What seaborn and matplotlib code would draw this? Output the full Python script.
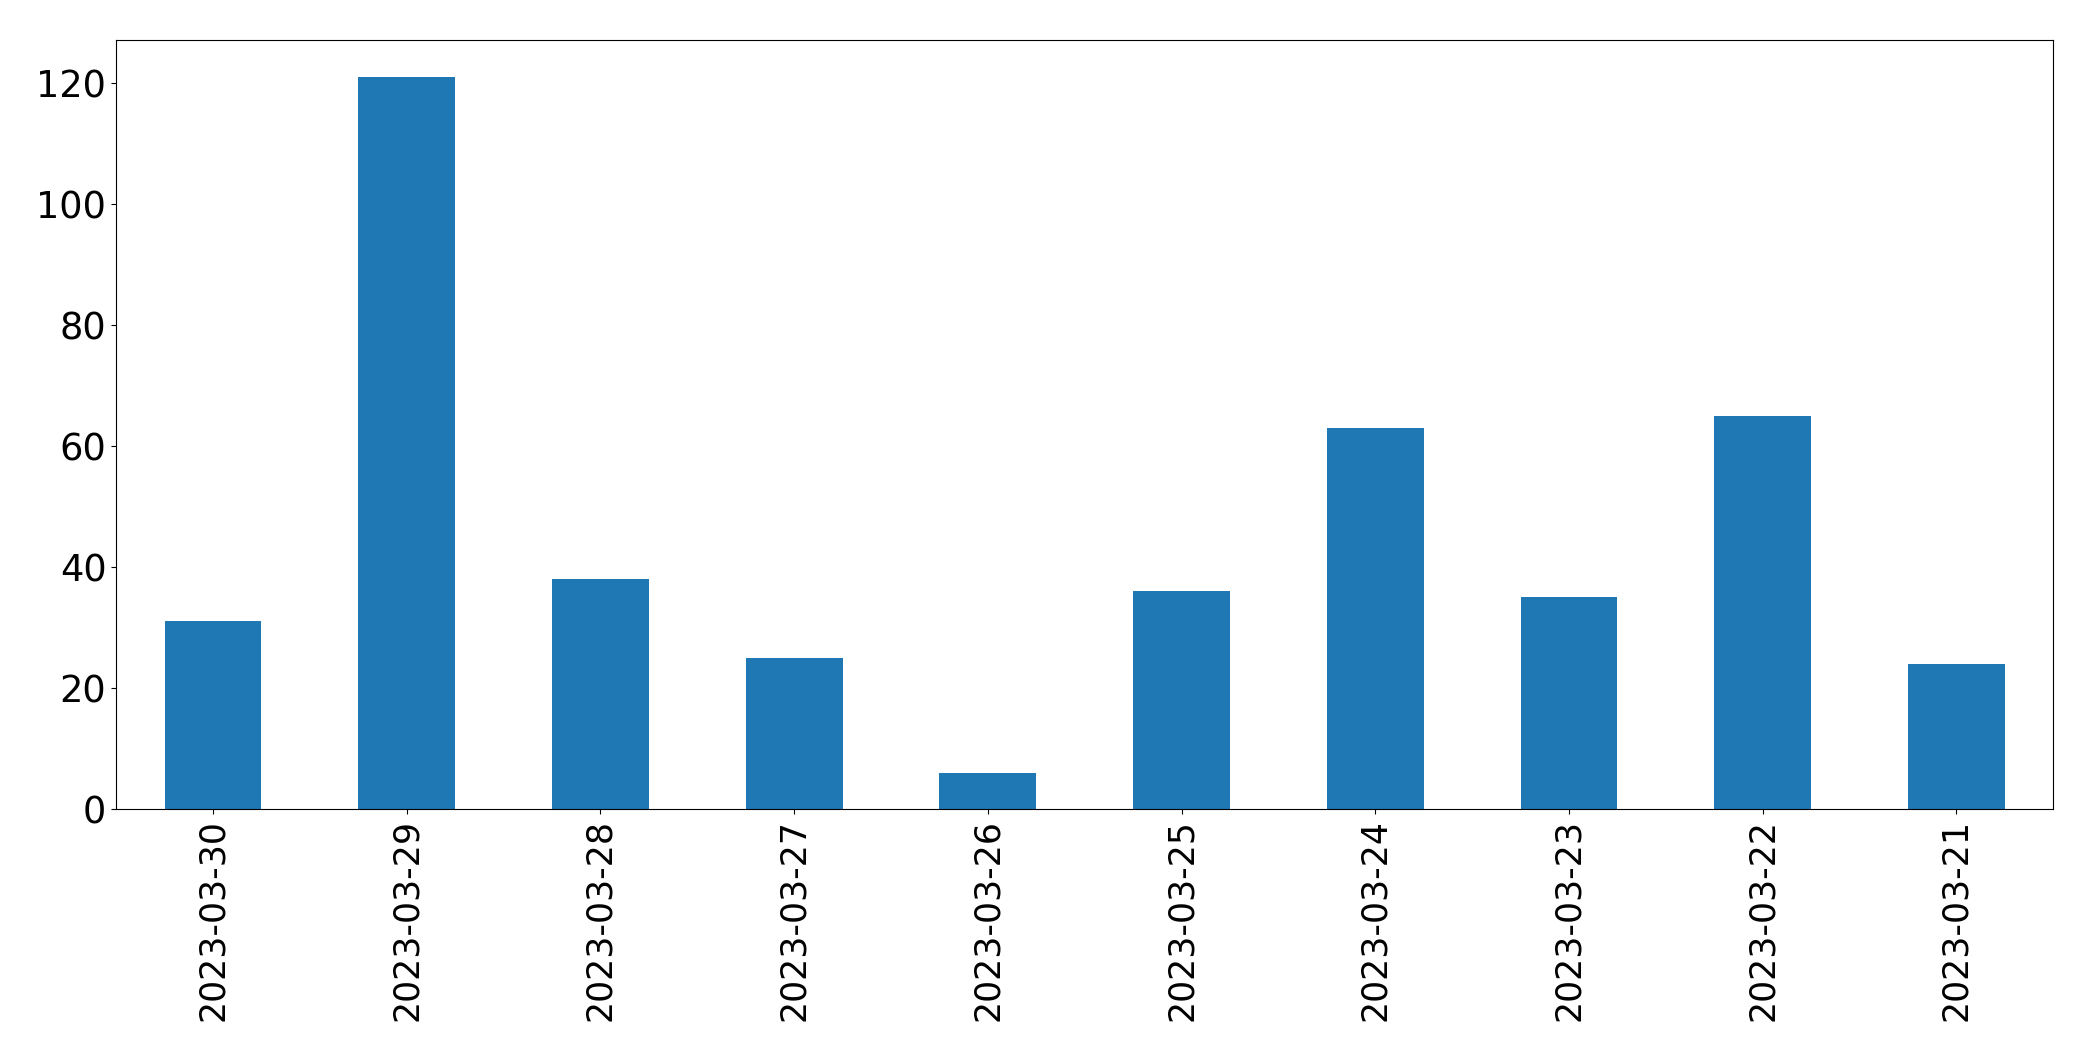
import matplotlib
matplotlib.use("Agg")
import matplotlib.pyplot as plt
import seaborn as sns
import pandas as pd

dates = ["2023-03-30", "2023-03-29", "2023-03-28", "2023-03-27", "2023-03-26",
         "2023-03-25", "2023-03-24", "2023-03-23", "2023-03-22", "2023-03-21"]
counts = [31, 121, 38, 25, 6, 36, 63, 35, 65, 24]

df = pd.DataFrame({"date": dates, "count": counts})

fig, ax = plt.subplots(figsize=(20.93, 10.61), dpi=100)
fig.subplots_adjust(left=0.0555, right=0.981, top=0.962, bottom=0.2375)

sns.barplot(data=df, x="date", y="count", order=dates, color="#1f77b4",
            saturation=1, width=0.5, ax=ax)

ax.set_xlim(-0.5, len(dates) - 0.5)
ax.set_ylim(0, max(counts) * 1.05)
ax.set_xlabel("")
ax.set_ylabel("")
ax.tick_params(axis="x", labelsize=25, length=3.5)
ax.tick_params(axis="y", labelsize=26.5, length=3.5)
plt.setp(ax.get_xticklabels(), rotation=90)
for s in ax.spines.values():
    s.set_color("black")

fig.savefig("out.png", dpi=100)
